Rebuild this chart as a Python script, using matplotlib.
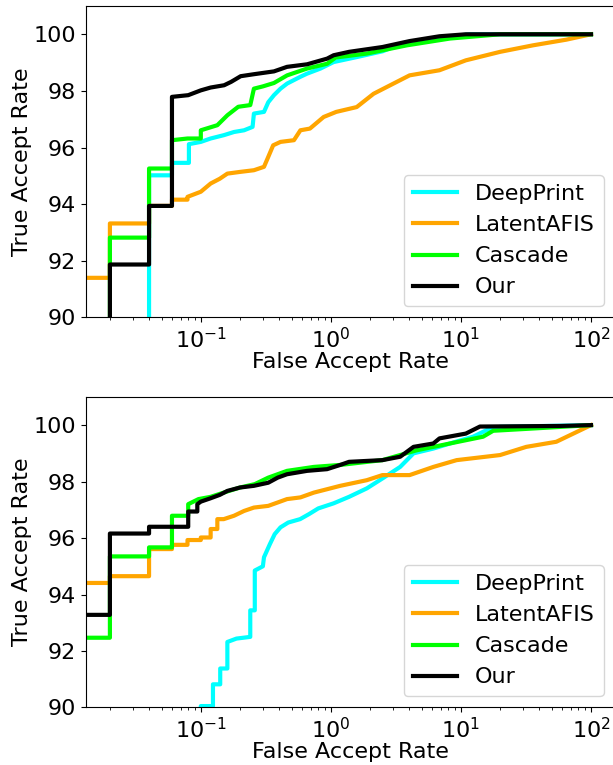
import matplotlib
matplotlib.use('Agg')
import matplotlib.pyplot as plt

labels = ['DeepPrint', 'LatentAFIS', 'Cascade', 'Our']
colors = ['cyan', 'orange', 'lime', 'black']

# curve vertices: false accept rate (%) and true accept rate (%)
# top panel
top_deepprint_far = [0.04, 0.04, 0.06, 0.06, 0.081, 0.081, 0.1, 0.119, 0.151, 0.18, 0.215, 0.25, 0.256,
                     0.306, 0.33, 0.365, 0.41, 0.461, 0.583, 0.656, 0.832, 1.05, 1.6, 2.5, 3.6, 6.0,
                     11.7, 100]
top_deepprint_tar = [85, 95.02, 95.02, 95.46, 95.46, 96.12, 96.2, 96.32, 96.44, 96.55, 96.61, 96.73, 97.2,
                     97.26, 97.6, 97.85, 98.08, 98.26, 98.5, 98.61, 98.79, 99.02, 99.2, 99.4, 99.69,
                     99.85, 100, 100]

top_latent_far = [0, 0.02, 0.02, 0.04, 0.04, 0.06, 0.06, 0.079, 0.079, 0.1, 0.119, 0.14, 0.16, 0.2, 0.256,
                  0.306, 0.33, 0.36, 0.41, 0.52, 0.583, 0.69, 0.88, 1.1, 1.58, 2.13, 3.03, 4.03, 6.84,
                  10.9, 20, 35.8, 64.6, 100]
top_latent_tar = [91.4, 91.4, 93.32, 93.32, 93.94, 93.94, 94.16, 94.16, 94.26, 94.44, 94.73, 94.9, 95.08,
                  95.14, 95.2, 95.32, 95.67, 96.08, 96.2, 96.26, 96.61, 96.67, 97.08, 97.26, 97.43, 97.9,
                  98.26, 98.55, 98.73, 99.08, 99.38, 99.61, 99.81, 100]

top_cascade_far = [0.02, 0.02, 0.04, 0.04, 0.06, 0.06, 0.079, 0.1, 0.1, 0.134, 0.16, 0.194, 0.24, 0.256,
                   0.3, 0.365, 0.461, 0.656, 0.935, 1.09, 1.89, 3.84, 8.24, 20, 100]
top_cascade_tar = [85, 92.82, 92.82, 95.26, 95.26, 96.26, 96.32, 96.32, 96.61, 96.79, 97.14, 97.44, 97.5,
                   98.08, 98.16, 98.28, 98.55, 98.79, 98.96, 99.18, 99.32, 99.61, 99.85, 100, 100]

top_our_far = [0.02, 0.02, 0.04, 0.04, 0.06, 0.06, 0.08, 0.1, 0.119, 0.151, 0.171, 0.2025, 0.256, 0.365,
               0.46, 0.656, 0.935, 1.05, 1.38, 2.49, 4.03, 6.84, 10.9, 100]
top_our_tar = [85, 91.87, 91.87, 93.94, 93.94, 97.79, 97.85, 98.02, 98.12, 98.2, 98.32, 98.52, 98.59,
               98.69, 98.85, 98.94, 99.14, 99.26, 99.38, 99.55, 99.76, 99.93, 100, 100]

# bottom panel
bot_deepprint_far = [0.1, 0.1, 0.124, 0.124, 0.141, 0.141, 0.16, 0.16, 0.188, 0.24, 0.24, 0.26, 0.26, 0.3,
                     0.306, 0.34, 0.37, 0.41, 0.47, 0.58, 0.68, 0.8, 1.05, 1.38, 1.89, 2.49, 3.41, 4.32,
                     6.14, 8.24, 12.4, 15.7, 20, 100]
bot_deepprint_tar = [85, 90.05, 90.05, 90.82, 90.82, 91.38, 91.38, 92.32, 92.44, 92.5, 93.44, 93.44, 94.85,
                     95.0, 95.32, 95.79, 96.14, 96.38, 96.55, 96.67, 96.85, 97.05, 97.23, 97.46, 97.76,
                     98.11, 98.52, 99.0, 99.17, 99.35, 99.59, 99.82, 99.94, 100]

bot_latent_far = [0, 0.02, 0.02, 0.04, 0.04, 0.06, 0.06, 0.079, 0.079, 0.1, 0.1, 0.119, 0.119, 0.134,
                  0.134, 0.15, 0.18, 0.215, 0.256, 0.33, 0.39, 0.46, 0.583, 0.74, 0.935, 1.18, 1.89,
                  2.49, 4.03, 6.14, 9.27, 20, 31.8, 54.1, 100]
bot_latent_tar = [94.41, 94.41, 94.65, 94.65, 95.61, 95.61, 95.76, 95.76, 95.93, 95.93, 96.02, 96.02,
                  96.32, 96.32, 96.67, 96.67, 96.79, 96.96, 97.08, 97.14, 97.26, 97.38, 97.44, 97.61,
                  97.73, 97.85, 98.05, 98.23, 98.23, 98.52, 98.76, 98.94, 99.23, 99.41, 100]

bot_cascade_far = [0, 0.02, 0.02, 0.04, 0.04, 0.06, 0.06, 0.08, 0.08, 0.096, 0.119, 0.15, 0.2, 0.26, 0.33,
                   0.46, 0.74, 1.18, 2.49, 4.58, 8.24, 14.8, 17.7, 35.8, 100]
bot_cascade_tar = [92.47, 92.47, 95.35, 95.35, 95.67, 95.67, 96.79, 96.79, 97.2, 97.38, 97.46, 97.61,
                   97.79, 97.91, 98.14, 98.38, 98.52, 98.59, 98.76, 99.11, 99.35, 99.59, 99.8, 99.88, 100]

bot_our_far = [0, 0.02, 0.02, 0.04, 0.04, 0.08, 0.08, 0.094, 0.094, 0.1, 0.119, 0.14, 0.16, 0.2, 0.256,
               0.33, 0.39, 0.46, 0.656, 0.935, 1.18, 1.38, 2.49, 3.41, 4.32, 6.14, 6.84, 10.9, 14.0,
               57.4, 100]
bot_our_tar = [93.28, 93.28, 96.16, 96.16, 96.4, 96.4, 96.94, 96.94, 97.2, 97.29, 97.41, 97.53, 97.67,
               97.79, 97.85, 97.96, 98.14, 98.26, 98.38, 98.44, 98.59, 98.7, 98.76, 98.88, 99.23, 99.35,
               99.53, 99.7, 99.95, 99.97, 100]

top_data = [(top_deepprint_far, top_deepprint_tar), (top_latent_far, top_latent_tar),
            (top_cascade_far, top_cascade_tar), (top_our_far, top_our_tar)]
bot_data = [(bot_deepprint_far, bot_deepprint_tar), (bot_latent_far, bot_latent_tar),
            (bot_cascade_far, bot_cascade_tar), (bot_our_far, bot_our_tar)]

fig = plt.figure(figsize=(6.13, 7.65), dpi=100)
ax1 = fig.add_axes([0.1403, 0.585, 0.863, 0.4072])
ax2 = fig.add_axes([0.1403, 0.0752, 0.863, 0.406])

for ax, data in [(ax1, top_data), (ax2, bot_data)]:
    ax.set_xscale('log')
    for (far, tar), lab, col in zip(data, labels, colors):
        ax.plot(far, tar, color=col, linewidth=3, label=lab)
    ax.set_xlim(0.0131, 153)
    ax.set_ylim(90, 101)
    ax.set_yticks([90, 92, 94, 96, 98, 100])
    ax.tick_params(labelsize=16)
    ax.set_xlabel('False Accept Rate', fontsize=16, labelpad=0)
    ax.set_ylabel('True Accept Rate', fontsize=16, labelpad=1.5)
    ax.legend(loc='lower right', fontsize=16)

fig.savefig('out.png', dpi=100)
